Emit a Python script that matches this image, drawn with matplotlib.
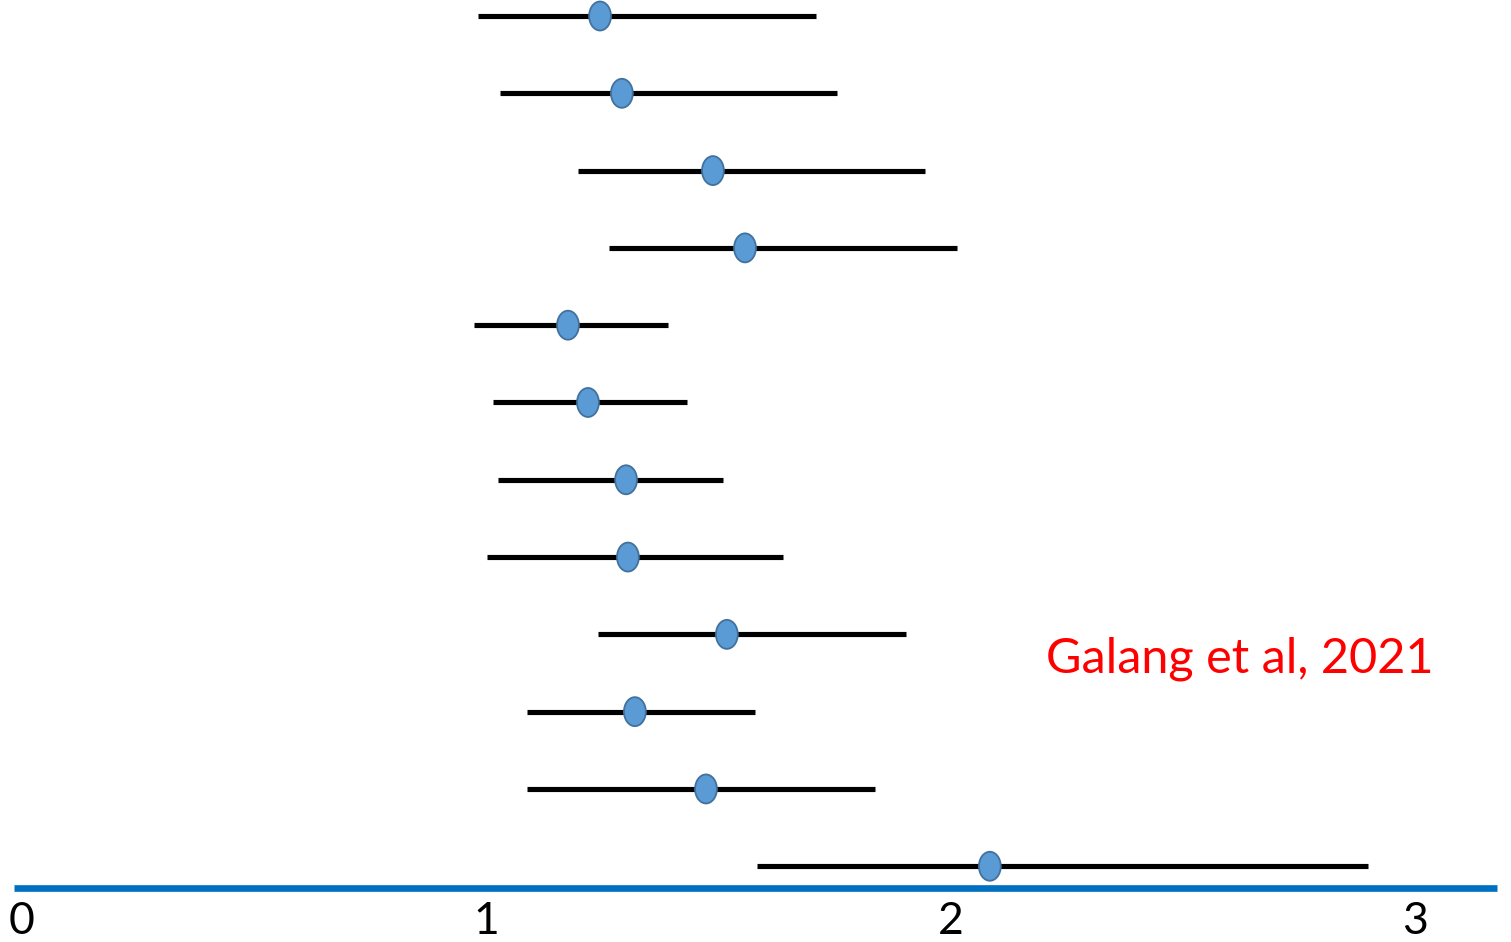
import matplotlib.pyplot as plt
from matplotlib.patches import Ellipse

# estimates (point) with lower / upper interval bounds, top row first
est = [1.245, 1.292, 1.488, 1.557, 1.176, 1.219, 1.301, 1.305, 1.518, 1.320, 1.473, 2.084]
lo = [0.982, 1.030, 1.198, 1.264, 0.974, 1.015, 1.025, 1.002, 1.241, 1.088, 1.088, 1.583]
hi = [1.710, 1.755, 1.944, 2.013, 1.391, 1.432, 1.510, 1.639, 1.904, 1.579, 1.837, 2.898]
ticks = [0, 1, 2, 3]
source = 'Galang et al, 2021'

plt.rcParams['font.family'] = ['Lato', 'DejaVu Sans']

fig = plt.figure(figsize=(15.11, 9.42), dpi=100)
ax = fig.add_axes([0, 0, 1, 1])
ax.set_xlim(-0.0465, 3.2057)
ax.set_ylim(11.98, -0.207)
ax.axis('off')

rows = range(len(est))
for i in rows:
    ax.plot([lo[i], hi[i]], [i, i], color='black', lw=3.7, solid_capstyle='butt', zorder=2)
    ax.add_patch(Ellipse((est[i], i), 0.047, 0.375, facecolor='#5B9BD5',
                         edgecolor='#41719C', lw=1.3, zorder=3))

# baseline axis
axis_y = 11.28
ax.plot([-0.0163, 3.176], [axis_y, axis_y], color='#0070C0', lw=4.8,
        solid_capstyle='butt', zorder=1)
for t in ticks:
    ax.text(t, 11.72, str(t), ha='center', va='center', fontsize=32, color='black')

ax.text(2.205, 8.32, source, ha='left', va='center', fontsize=35, color='#FF0000')

fig.savefig('out.png', dpi=100)
